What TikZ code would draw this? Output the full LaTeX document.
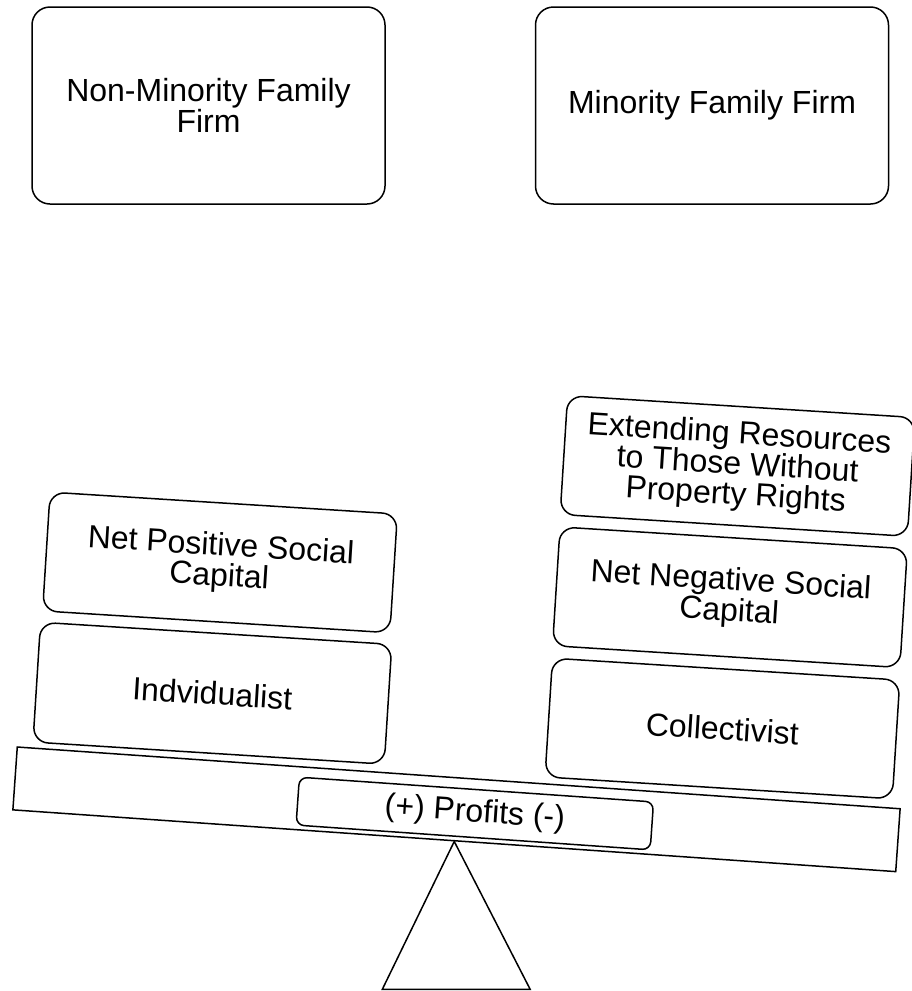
\documentclass[tikz,border=0pt]{standalone}
\usepackage{fontspec}
\setmainfont{Liberation Sans}
\usetikzlibrary{positioning}

\tikzstyle{firmNode} = [rectangle, rounded corners=18pt, minimum width=353pt, minimum height=197pt, inner sep=0pt, text centered, align=center, draw=black, line width=1.5pt]
\tikzstyle{blockNode} = [rectangle, rounded corners=15pt, minimum width=348pt, minimum height=119pt, inner sep=0pt, text centered, align=center, draw=black, line width=1.5pt, rotate=-3.6]
\tikzstyle{beamNode} = [rectangle, minimum width=885pt, minimum height=63pt, inner sep=0pt, draw=black, line width=1.5pt, rotate=-4]
\tikzstyle{profitNode} = [rectangle, rounded corners=8pt, minimum width=355pt, minimum height=48pt, inner sep=0pt, text centered, draw=black, line width=1.5pt, rotate=-4]

\begin{document}
\begin{tikzpicture}[x=1pt, y=-1pt, font=\fontsize{32}{30.5}\selectfont]
  \useasboundingbox (0,0) rectangle (912,991);

  \node (nonminority)[firmNode] at (208.5,105.5) {Non-Minority Family\\Firm};
  \node (minority)[firmNode] at (712,105.5) {Minority Family Firm};

  % the seesaw
  \node (beam)[beamNode] at (456.5,809.3) {};
  \node (profits)[profitNode] at (474.8,813.5) {(+) Profits (-)};
  \draw [line width=1.5pt] (beam.south) -- ++(-72,148) -- ++(148,0) -- cycle;

  \node (indiv)[blockNode, minimum width=352pt, minimum height=120pt] at (212.4,693.2) {Indvidualist};
  \node (netpos)[blockNode, above=10pt of indiv] {Net Positive Social\\Capital};

  \node (collect)[blockNode] at (722.4,728.5) {Collectivist};
  \node (netneg)[blockNode, above=11pt of collect] {Net Negative Social\\Capital};
  \node (extend)[blockNode, above=11pt of netneg] {Extending Resources\\to Those Without\\Property Rights};
\end{tikzpicture}
\end{document}
